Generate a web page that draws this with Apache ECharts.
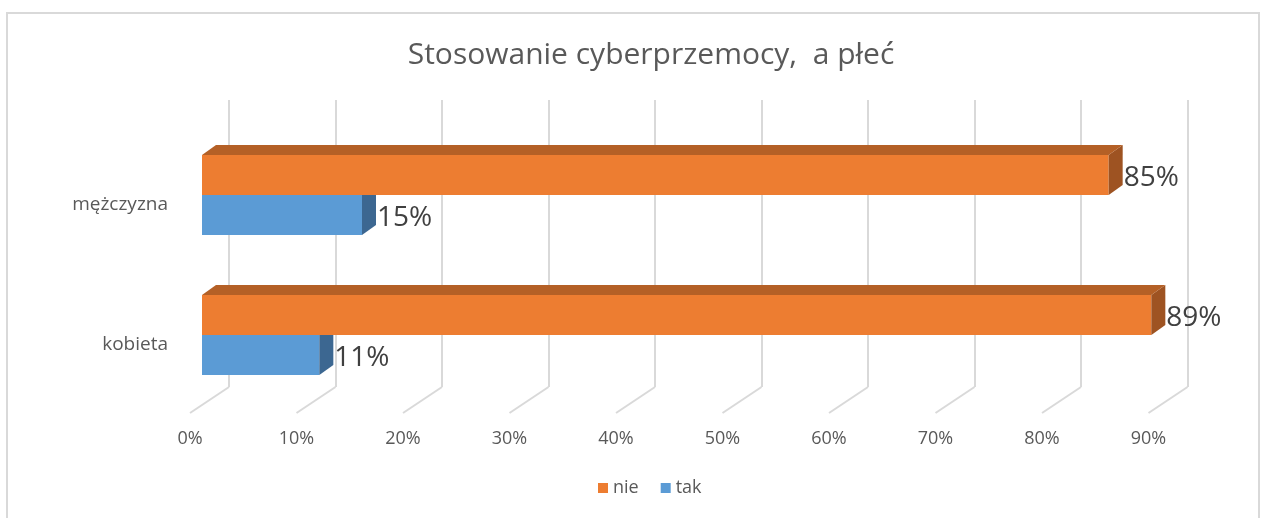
<!DOCTYPE html>
<html>
<head>
<meta charset="utf-8">
<script src="https://cdn.jsdelivr.net/npm/echarts@6/dist/echarts.min.js"></script>
<style>
  html, body { margin: 0; padding: 0; background: #fff; }
  #chart { width: 1271px; height: 518px; }
</style>
</head>
<body>
<div id="chart"></div>
<script>
// data
const categories = ['kobieta', 'mężczyzna']
const tak = [11, 15]
const nie = [89, 85]
const ticks = [0, 10, 20, 30, 40, 50, 60, 70, 80, 90]

const FONT = '"Open Sans", "Noto Sans", sans-serif'
const DEPTH = [14, -10]      // offset of bar top/side faces
const FLOOR = [-39, 26]      // floor diagonals, back wall -> front

// draws one 3D-ish bar: front face, top face, side face, value label
function barRenderer (top, colors) {
  return function (params, api) {
    const val = api.value(0)
    const cat = api.value(1)
    const base = api.coord([0, cat])
    const end = api.coord([val, cat])
    const h = api.size([0, 1])[1] * 0.2857
    const mid = base[1] - 10
    const y0 = top ? mid - h : mid
    const y1 = y0 + h
    const x0 = base[0]
    const x1 = end[0]
    const [dx, dy] = DEPTH
    const children = [
      { type: 'rect', shape: { x: x0, y: y0, width: x1 - x0, height: h }, style: { fill: colors.front } },
      { type: 'polygon', shape: { points: [[x1, y0], [x1 + dx, y0 + dy], [x1 + dx, y1 + dy], [x1, y1]] }, style: { fill: colors.side } },
      {
        type: 'text',
        style: {
          text: val + '%', x: x1 + dx + 1, y: (y0 + y1) / 2 + 3,
          fill: '#404040', font: '28px ' + FONT, verticalAlign: 'middle'
        }
      }
    ]
    if (top) {
      children.push({ type: 'polygon', shape: { points: [[x0, y0], [x0 + dx, y0 + dy], [x1 + dx, y0 + dy], [x1, y0]] }, style: { fill: colors.top } })
    }
    return { type: 'group', children }
  }
}

const option = {
  backgroundColor: '#fff',
  animation: false,
  title: {
    text: 'Stosowanie cyberprzemocy,  a płeć',
    left: 646,
    textAlign: 'center',
    top: 35,
    textStyle: { fontFamily: FONT, fontSize: 30, fontWeight: 'normal', color: '#595959' }
  },
  legend: {
    data: ['nie', 'tak'],
    bottom: 16,
    left: 593,
    icon: 'rect',
    itemWidth: 10,
    itemHeight: 10,
    itemGap: 22,
    textStyle: { fontFamily: FONT, fontSize: 18, color: '#595959' }
  },
  graphic: [{
    type: 'rect',
    shape: { x: 7, y: 13, width: 1252, height: 530 },
    style: { fill: 'none', stroke: '#d9d9d9', lineWidth: 2 },
    silent: true
  }],
  grid: [
    { left: 229, right: 83.5, top: 100, bottom: 131 },   // back wall
    { left: 190, right: 122.5, top: 100, bottom: 105 },  // front floor edge (labels)
    { left: 202, right: 109, top: 135, bottom: 103 }     // bars
  ],
  xAxis: [
    {
      gridIndex: 0, type: 'value', min: 0, max: 90, interval: 10,
      axisLine: { show: false }, axisTick: { show: false }, axisLabel: { show: false },
      splitLine: { lineStyle: { color: '#d9d9d9', width: 2 } }
    },
    {
      gridIndex: 1, type: 'value', min: 0, max: 90, interval: 10,
      axisLine: { show: false }, axisTick: { show: false }, splitLine: { show: false },
      axisLabel: { formatter: '{value}%', margin: 17, fontFamily: FONT, fontSize: 18, color: '#595959' }
    },
    {
      gridIndex: 2, type: 'value', min: 0, max: 90,
      show: false
    }
  ],
  yAxis: [
    { gridIndex: 0, type: 'value', min: 0, max: 1, show: false },
    { gridIndex: 1, type: 'value', min: 0, max: 1, show: false },
    {
      gridIndex: 2, type: 'category', data: categories,
      axisLine: { show: false }, axisTick: { show: false },
      axisLabel: { margin: 34, fontFamily: FONT, fontSize: 19, color: '#595959' }
    }
  ],
  series: [
    {
      type: 'custom',
      name: 'floor',
      xAxisIndex: 0,
      yAxisIndex: 0,
      silent: true,
      data: ticks,
      encode: { x: 0 },
      renderItem: function (params, api) {
        const p = api.coord([api.value(0), 0])
        return {
          type: 'line',
          shape: { x1: p[0], y1: p[1], x2: p[0] + FLOOR[0], y2: p[1] + FLOOR[1] },
          style: { stroke: '#d9d9d9', lineWidth: 2 }
        }
      }
    },
    {
      type: 'custom',
      name: 'tak',
      xAxisIndex: 2,
      yAxisIndex: 2,
      itemStyle: { color: '#5B9BD5' },
      data: tak.map((v, i) => [v, i]),
      encode: { x: 0, y: 1 },
      renderItem: barRenderer(false, { front: '#5B9BD5', side: '#3C6791', top: '#41719C' })
    },
    {
      type: 'custom',
      name: 'nie',
      xAxisIndex: 2,
      yAxisIndex: 2,
      itemStyle: { color: '#ED7D31' },
      data: nie.map((v, i) => [v, i]),
      encode: { x: 0, y: 1 },
      renderItem: barRenderer(true, { front: '#ED7D31', side: '#9E5322', top: '#B46026' })
    }
  ]
}

const chart = echarts.init(document.getElementById('chart'))
chart.setOption(option)
</script>
</body>
</html>
